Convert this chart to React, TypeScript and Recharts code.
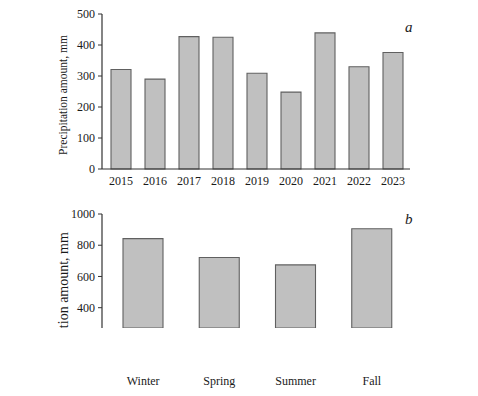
import React from 'react';
import { BarChart, Bar, XAxis, YAxis } from 'recharts';

const years = ['2015', '2016', '2017', '2018', '2019', '2020', '2021', '2022', '2023'];
const yearTotals = [321, 290, 427, 425, 309, 248, 439, 330, 376];
const yearTicks = [0, 100, 200, 300, 400, 500];

const seasons = ['Winter', 'Spring', 'Summer', 'Fall'];
const seasonTotals = [842, 721, 674, 906];
const seasonTicks = [400, 600, 800, 1000];

const yearData = years.map((year, i) => ({ year, value: yearTotals[i] }));
const seasonData = seasons.map((season, i) => ({ season, value: seasonTotals[i] }));

const FONT = '"Liberation Serif", "Times New Roman", serif';
const tickStyle = { fill: '#1a1a1a', fontSize: 12, fontFamily: FONT };

// rotated y title; the bottom panel's title is cut off at the plot bottom like the source figure
const AxisTitle = ({ cx, cy, size, clipBottom, clipId }: any) => (
  <g>
    <defs>
      <clipPath id={clipId}>
        <rect x={0} y={0} width={200} height={clipBottom} />
      </clipPath>
    </defs>
    <g clipPath={`url(#${clipId})`}>
      <text
        x={cx}
        y={cy}
        transform={`rotate(-90 ${cx} ${cy})`}
        textAnchor="middle"
        dominantBaseline="central"
        fontFamily={FONT}
        fontSize={size}
        fill="#1a1a1a"
      >
        Precipitation amount, mm
      </text>
    </g>
  </g>
);

const panelLetter: React.CSSProperties = {
  position: 'absolute',
  fontFamily: FONT,
  fontStyle: 'italic',
  fontSize: 15,
  color: '#1a1a1a',
};

export default function App() {
  return (
    <div style={{ position: 'absolute', left: 0, top: 0, width: 478, height: 396, background: '#fff', overflow: 'hidden' }}>
      <div style={{ position: 'absolute', left: 0, top: 0 }}>
        <BarChart width={478} height={199} data={yearData} margin={{ top: 14, right: 68, left: 0, bottom: 0 }}>
          <XAxis
            dataKey="year"
            height={30}
            padding={{ left: 2, right: 0 }}
            tickLine={false}
            tickSize={0}
            tickMargin={7}
            axisLine={{ stroke: '#333', strokeWidth: 1.2 }}
            tick={tickStyle}
            interval={0}
          />
          <YAxis
            width={102}
            domain={[0, 500]}
            ticks={yearTicks}
            tickSize={4}
            tickMargin={3}
            axisLine={{ stroke: '#333', strokeWidth: 1.2 }}
            tickLine={{ stroke: '#333' }}
            tick={tickStyle}
            label={<AxisTitle clipId="clip-a" cx={63} cy={95} size={11.5} clipBottom={200} />}
          />
          <Bar dataKey="value" barSize={20} fill="#c0c0c0" stroke="#606060" strokeWidth={1.1} isAnimationActive={false} />
        </BarChart>
      </div>
      <span style={{ ...panelLetter, left: 405, top: 19 }}>a</span>

      <div style={{ position: 'absolute', left: 0, top: 200 }}>
        <BarChart width={478} height={196} data={seasonData} margin={{ top: 14, right: 68, left: 0, bottom: 0 }}>
          <XAxis
            dataKey="season"
            height={68}
            padding={{ left: 3, right: 0 }}
            tickLine={false}
            tickSize={0}
            tickMargin={48}
            axisLine={false}
            tick={tickStyle}
            interval={0}
          />
          <YAxis
            width={102}
            domain={[270, 1000]}
            allowDataOverflow
            ticks={seasonTicks}
            tickSize={4}
            tickMargin={3}
            axisLine={{ stroke: '#333', strokeWidth: 1.2 }}
            tickLine={{ stroke: '#333' }}
            tick={tickStyle}
            label={<AxisTitle clipId="clip-b" cx={63} cy={105} size={14} clipBottom={128} />}
          />
          <Bar dataKey="value" barSize={40} fill="#c0c0c0" stroke="#606060" strokeWidth={1.1} isAnimationActive={false} />
        </BarChart>
      </div>
      <span style={{ ...panelLetter, left: 405, top: 211 }}>b</span>
    </div>
  );
}
